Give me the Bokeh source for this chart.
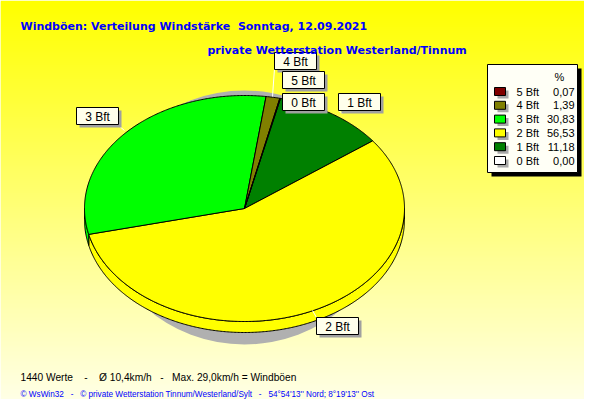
import numpy as np
from bokeh.plotting import figure
from bokeh.models import Range1d
from bokeh.core.properties import value
from bokeh.embed import file_html
from bokeh.resources import INLINE

# ---------------- data ----------------
categories = ["5 Bft", "4 Bft", "3 Bft", "2 Bft", "1 Bft", "0 Bft"]
percent = [0.07, 1.39, 30.83, 56.53, 11.18, 0.00]
percent_labels = ["0,07", "1,39", "30,83", "56,53", "11,18", "0,00"]
colors = ["#800000", "#808000", "#00FF00", "#FFFF00", "#008000", "#FFFFFF"]
NB = "\u00a0"
title1 = "Windböen: Verteilung Windstärke" + NB * 2 + "Sonntag, 12.09.2021"
title2 = "private Wetterstation Westerland/Tinnum"
footer1 = ("1440 Werte" + NB * 4 + "-" + NB * 4 + "Ø 10,4km/h" + NB * 3 + "-" + NB * 3 +
           "Max. 29,0km/h = Windböen")
footer2 = ("© WsWin32" + NB * 3 + "-" + NB * 3 + "© private Wetterstation Tinnum/Westerland/Sylt" +
           NB * 3 + "-" + NB * 3 + "54°54'13'' Nord; 8°19'13'' Ost")

# ---------------- layout ----------------
W, H = 584, 399
CX, CY, RX, RY, DEPTH = 244, 208, 160, 113, 11
START = 13.0
FONT = value("Liberation Sans")
BFONT = value("DejaVu Sans")
label_box = {  # left, top of the callout boxes
    "3 Bft": (76, 107), "4 Bft": (274, 52), "5 Bft": (282, 71),
    "0 Bft": (282, 93), "1 Bft": (338, 93), "2 Bft": (316, 317),
}
leaders = {"3 Bft": ((118, 125), (124, 130)), "4 Bft": ((274, 68), (272, 96)),
           "2 Bft": ((316, 317), (312, 310)), "1 Bft": ((338, 110), (342, 113))}

p = figure(width=W, height=H, output_backend="svg", toolbar_location=None,
           x_range=Range1d(0, W), y_range=Range1d(H, 0),
           min_border=0, outline_line_color=None)
p.axis.visible = False
p.grid.visible = False

# background gradient
ys = np.arange(0, 420, 2)
grad = ["#%02x%02x%02x" % (255, 255, int(min(240, 240 * y / 415))) for y in ys]
p.quad(left=0, right=600, top=ys, bottom=ys + 3, fill_color=grad, line_color=None)

# shadow
p.ellipse(x=[244], y=[217], width=[280], height=[254], fill_color="#B0B0B0", line_color=None)

def ell(theta_deg, dy=0):
    t = np.radians(theta_deg)
    return CX + RX * np.sin(t), CY - RY * np.cos(t) + dy

# slices clockwise: 0 Bft, 1 Bft, ..., 5 Bft
order = list(range(len(categories)))[::-1]
vals = np.array([percent[i] for i in order])
edges = START + 360 * np.concatenate([[0], np.cumsum(vals)]) / vals.sum()

side_xs, side_ys, side_c = [], [], []
top_xs, top_ys, top_c = [], [], []
for k, i in enumerate(order):
    a1, a2 = edges[k], edges[k + 1]
    if a2 - a1 <= 0:
        continue
    th = np.linspace(a1, a2, max(3, int((a2 - a1) * 2)))
    x, y = ell(th)
    top_xs.append(np.concatenate([[CX], x]).tolist())
    top_ys.append(np.concatenate([[CY], y]).tolist())
    top_c.append(colors[i])
    lo, hi = max(a1, 90), min(a2, 270)
    if hi > lo:
        th2 = np.linspace(lo, hi, max(3, int((hi - lo) * 2)))
        x1, y1 = ell(th2)
        x2, y2 = ell(th2[::-1], DEPTH)
        side_xs.append(np.concatenate([x1, x2]).tolist())
        side_ys.append(np.concatenate([y1, y2]).tolist())
        side_c.append(colors[i])

p.patches(side_xs, side_ys, fill_color=side_c, line_color="black", line_width=1)
p.patches(top_xs, top_ys, fill_color=top_c, line_color="black", line_width=1)

# leader lines
for c, ((x0, y0), (x1, y1)) in leaders.items():
    p.line([x0, x1], [y0, y1], line_color="white", line_width=1)

# callout boxes
bl = [label_box[c][0] for c in categories]
bt = [label_box[c][1] for c in categories]
bw, bh = 42, 17
p.quad(left=[v + 3 for v in bl], right=[v + bw + 3 for v in bl],
       top=[v + 3 for v in bt], bottom=[v + bh + 3 for v in bt],
       fill_color="#A0A0A0", line_color=None)
p.quad(left=bl, right=[v + bw for v in bl], top=bt, bottom=[v + bh for v in bt],
       fill_color="#FFFFEC", line_color="black", line_width=1)
p.text(x=[v + bw / 2 for v in bl], y=[v + bh / 2 + 0.5 for v in bt], text=categories,
       text_font=FONT, text_font_size="12px", text_align="center",
       text_baseline="middle", text_color="black")

# legend
LL, LT, LR, LB = 487, 64, 577, 172
p.quad(left=[LL + 4], right=[LR + 4], top=[LT + 4], bottom=[LB + 4], fill_color="black", line_color=None)
p.quad(left=[LL], right=[LR], top=[LT], bottom=[LB], fill_color="#FFFFF6", line_color="black")
p.text(x=[559], y=[76], text=["%"], text_font=FONT, text_font_size="11px",
       text_align="center", text_baseline="middle", text_color="black")
ry = [91 + 13.8 * k for k in range(len(categories))]
p.quad(left=497, right=508, top=[y - 1 for y in ry], bottom=[y + 7 for y in ry],
       fill_color="#A8A8A8", line_color=None)
p.quad(left=494, right=505, top=[y - 4 for y in ry], bottom=[y + 4 for y in ry],
       fill_color=colors, line_color="black", line_width=1)
p.text(x=516, y=ry, text=categories, text_font=FONT, text_font_size="11px",
       text_baseline="middle", text_color="black")
p.text(x=574, y=ry, text=percent_labels, text_font=FONT, text_font_size="11px",
       text_align="right", text_baseline="middle", text_color="black")

# titles
p.text(x=[20], y=[26], text=[title1], text_font=BFONT, text_font_size="11px",
       text_font_style="bold", text_baseline="middle", text_color="#0000FF")
p.text(x=[207], y=[50], text=[title2], text_font=BFONT, text_font_size="11px",
       text_font_style="bold", text_baseline="middle", text_color="#0000FF")
p.text(x=[20], y=[377], text=[footer1], text_font=FONT, text_font_size="10.2px",
       text_baseline="middle", text_color="black")
p.text(x=[20], y=[394], text=[footer2], text_font=FONT, text_font_size="8.2px",
       text_baseline="middle", text_color="#0000FF")

open("out.html", "w").write(file_html(p, INLINE))
